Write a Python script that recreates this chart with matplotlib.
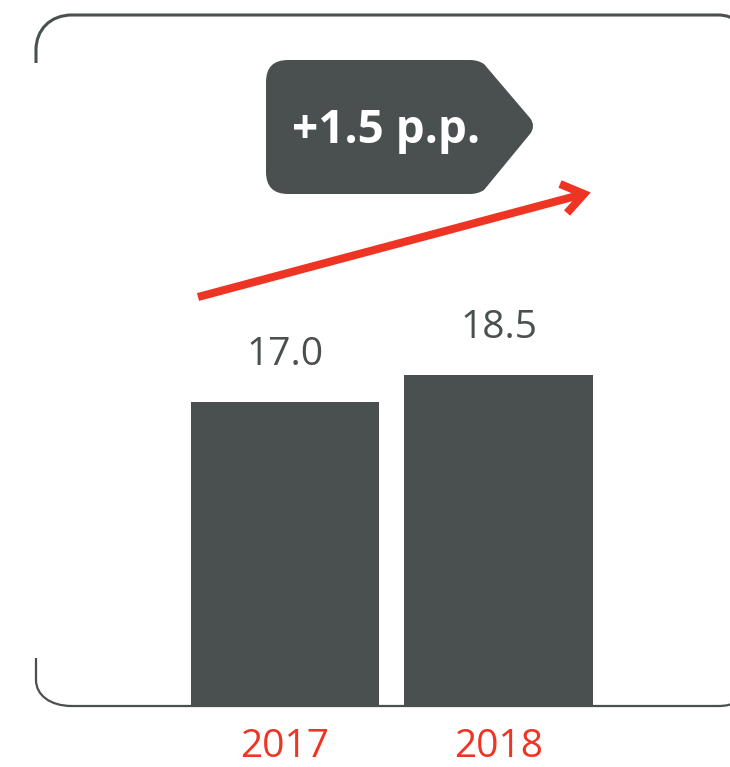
import matplotlib
matplotlib.use("Agg")
import matplotlib.pyplot as plt
import matplotlib.transforms as mtransforms
from matplotlib.path import Path
from matplotlib.patches import PathPatch

# data
years = ["2017", "2018"]
values = [17.0, 18.5]
change_label = "+1.5 p.p."

DARK = "#4a4f50"
RED = "#ee3524"
W, H = 730, 767

plt.rcParams['font.family'] = ['Open Sans', 'DejaVu Sans']

fig = plt.figure(figsize=(W / 100, H / 100), dpi=100)
ax = fig.add_axes([0, 0, 1, 1])
ax.set_axis_off()

# scale: category spacing 213.5px, 17.9px per unit, baseline at 706px from top
x = [0, 1]
ax.set_xlim(-285 / 213.5, (W - 285) / 213.5)
ax.set_ylim(-61 / 17.9, (H - 61) / 17.9)

# pixel coordinates measured from the top-left corner
px = mtransforms.Affine2D().scale(1 / W, -1 / H).translate(0, 1) + fig.transFigure

# ---------------------------------------------------------
# rounded frame (open on the left side)
# ---------------------------------------------------------
top = Path([(36, 63), (36, 50), (36, 30), (50, 15), (72, 15), (718, 15), (735, 15), (745, 25), (755, 50)],
           [Path.MOVETO, Path.LINETO, Path.CURVE4, Path.CURVE4, Path.CURVE4, Path.LINETO,
            Path.CURVE4, Path.CURVE4, Path.CURVE4])
ax.add_patch(PathPatch(top, transform=px, fill=False, edgecolor=DARK, lw=2.2, capstyle='butt'))
bottom = Path([(36, 658), (36, 680), (36, 695), (50, 706), (72, 706), (718, 706), (735, 706), (745, 700), (755, 680)],
              [Path.MOVETO, Path.LINETO, Path.CURVE4, Path.CURVE4, Path.CURVE4, Path.LINETO,
               Path.CURVE4, Path.CURVE4, Path.CURVE4])
ax.add_patch(PathPatch(bottom, transform=px, fill=False, edgecolor=DARK, lw=1.6, capstyle='butt'))

# ---------------------------------------------------------
# bars and labels
# ---------------------------------------------------------
ax.bar(x, values, width=0.885, color=DARK, zorder=3)
for xi, v, yr in zip(x, values, years):
    ax.annotate(f"{v:.1f}", (xi, v), xytext=(0, 20), textcoords='offset points',
                ha='center', va='bottom', fontsize=28, color=DARK)
    # keep the year labels just inside the bottom edge
    ax.annotate(yr, (xi, 0), xytext=(0, -43), textcoords='offset points',
                ha='center', va='bottom', fontsize=28, color=RED)

# ---------------------------------------------------------
# red trend arrow
# ---------------------------------------------------------
ax.plot([198, 580], [297, 195], transform=px, color=RED, lw=5.8, solid_capstyle='butt')
ax.plot([560, 584, 567], [184, 194, 213], transform=px, color=RED, lw=5.8,
        solid_joinstyle='miter', solid_capstyle='butt')

# ---------------------------------------------------------
# tag badge
# ---------------------------------------------------------
r = 22
verts = [(266 + r, 60), (470, 60), (478, 60), (484, 64), (530, 118), (534, 123), (534, 129), (530, 134),
         (484, 190), (478, 194), (470, 194), (266 + r, 194), (266, 194), (266, 194 - r),
         (266, 60 + r), (266, 60), (266 + r, 60), (266 + r, 60)]
codes = [Path.MOVETO, Path.LINETO, Path.CURVE3, Path.CURVE3, Path.LINETO, Path.CURVE4, Path.CURVE4, Path.CURVE4,
         Path.LINETO, Path.CURVE3, Path.CURVE3, Path.LINETO, Path.CURVE3, Path.CURVE3,
         Path.LINETO, Path.CURVE3, Path.CURVE3, Path.CLOSEPOLY]
ax.add_patch(PathPatch(Path(verts, codes), transform=px, facecolor=DARK, edgecolor='none'))
ax.text(386, 130, change_label, transform=px, ha='center', va='center', fontsize=33,
        fontweight='bold', color='white')

fig.savefig("out.png", dpi=100)
